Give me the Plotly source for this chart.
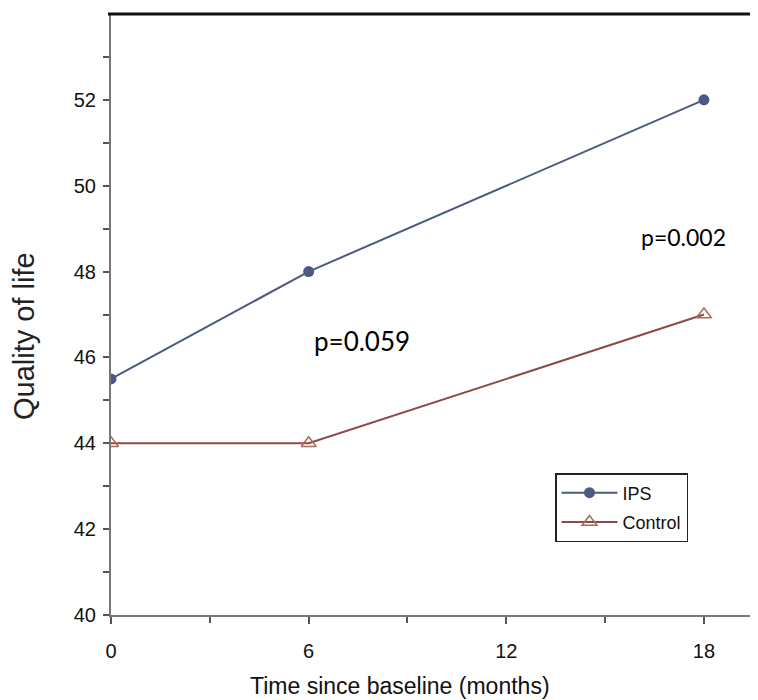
import plotly.graph_objects as go

months = [0, 6, 18]
ips = [45.5, 48.0, 52.0]
control = [44.0, 44.0, 47.0]
y_ticks = [40, 42, 44, 46, 48, 50, 52]
y_minor = [41, 43, 45, 47, 49, 51, 53]
x_ticks = [0, 6, 12, 18]
x_minor = [3, 9, 15]

# page body has an 8px margin, so figure is drawn 8px in from the top-left
W, H = 750, 692
L, R, T, B = 103, 3, 6, 85
PW, PH = W - L - R, H - T - B


def px(xp):   # page x -> paper x
    return (xp - 8 - L) / PW


def py(yp):   # page y -> paper y
    return (H - B - (yp - 8)) / PH


fig = go.Figure()
fig.add_trace(go.Scatter(
    x=months, y=ips, name="IPS", mode="lines+markers", legendgroup="a",
    line=dict(color="#4b5a82", width=2),
    marker=dict(symbol="circle", size=11, color="#4b5a82"),
))
fig.add_trace(go.Scatter(
    x=months, y=control, name="Control", mode="lines+markers", legendgroup="b",
    line=dict(color="#8e4a4a", width=2),
    marker=dict(symbol="triangle-up-open", size=13, color="#a86a58", line=dict(width=1.5)),
))

pfont = "Lato, Open Sans, sans-serif"
fig.add_annotation(x=7.62, y=46.39, text="p=0.059", showarrow=False,
                   font=dict(family=pfont, size=26, color="black"))
fig.add_annotation(x=17.37, y=48.81, text="p=0.002", showarrow=False,
                   font=dict(family=pfont, size=23, color="black"))

fig.add_annotation(xref="paper", yref="paper", x=px(400), y=py(686),
                   text="Time since baseline (months)", showarrow=False,
                   font=dict(family="Liberation Sans, Arial", size=23, color="#111111"),
                   xanchor="center", yanchor="middle")
fig.add_annotation(xref="paper", yref="paper", x=px(24), y=py(336),
                   text="Quality of life", showarrow=False, textangle=-90,
                   font=dict(family="Liberation Sans, Arial", size=29, color="#222222"),
                   xanchor="center", yanchor="middle")

fig.add_shape(type="line", xref="paper", yref="paper", x0=px(108), x1=1, y0=1, y1=1,
              line=dict(color="#111111", width=3))
fig.add_shape(type="line", xref="paper", yref="paper", x0=1, x1=1, y0=0, y1=1,
              line=dict(color="#777777", width=1.5))

tickfont = dict(family="Liberation Sans, Arial", size=20, color="#111111")

fig.update_layout(
    width=W, height=H,
    margin=dict(l=L, r=R, t=T, b=B, autoexpand=False),
    paper_bgcolor="white", plot_bgcolor="white",
    font=dict(family="Liberation Sans, Arial", color="#222222"),
    showlegend=True,
    legend=dict(x=px(555), y=py(473), xanchor="left", yanchor="top",
                bordercolor="#222222", borderwidth=1.5, bgcolor="white",
                font=dict(family="Liberation Sans, Arial", size=18, color="#111111"),
                itemwidth=56, traceorder="grouped", tracegroupgap=3),
    xaxis=dict(
        range=[0, 19.55], tickvals=x_ticks, ticks="outside", ticklen=7,
        tickcolor="#555555", tickwidth=1.5, automargin=False,
        showline=True, linecolor="#777777", linewidth=2,
        showgrid=False, zeroline=False, ticklabelstandoff=10,
        minor=dict(tickvals=x_minor, ticks="outside", ticklen=6, tickcolor="#555555", tickwidth=1.5),
        tickfont=tickfont,
    ),
    yaxis=dict(
        range=[40, 54], tickvals=y_ticks, ticks="outside", ticklen=6,
        tickcolor="#555555", tickwidth=1.5, automargin=False,
        showline=True, linecolor="#777777", linewidth=2,
        showgrid=False, zeroline=False, ticklabelstandoff=3,
        minor=dict(tickvals=y_minor, ticks="outside", ticklen=6,
                   tickcolor="#555555", tickwidth=1.5),
        tickfont=tickfont,
    ),
)

fig.write_html("out.html")
